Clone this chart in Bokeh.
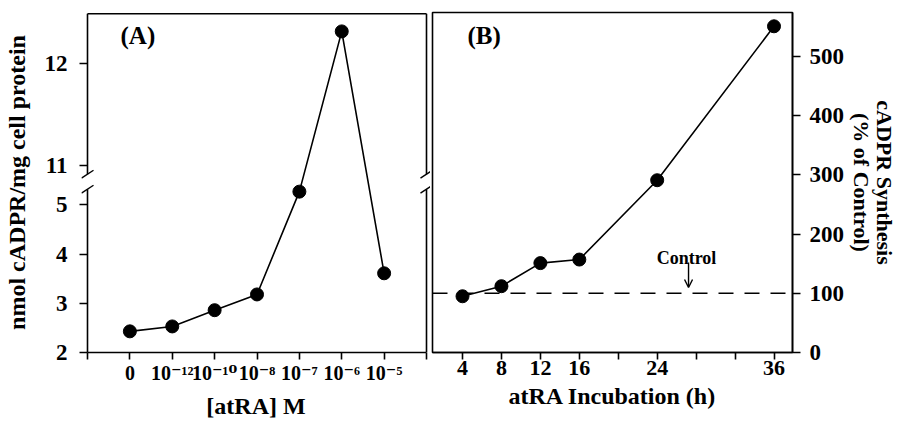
from bokeh.plotting import figure
from bokeh.layouts import row
from bokeh.models import (FixedTicker, Span, Label, Arrow, OpenHead,
                          ColumnDataSource, Range1d)
from bokeh.embed import file_html
from bokeh.resources import INLINE

# ---------------- data ----------------
# Panel A: cADPR content vs atRA concentration
conc_labels = ["0", "10⁻¹²", "10⁻¹⁰", "10⁻⁸", "10⁻⁷", "10⁻⁶", "10⁻⁵"]
cadpr_nmol = [2.43, 2.53, 2.86, 3.18, 5.27, 12.31, 3.61]
a_yticks_low = [2, 3, 4, 5]
a_yticks_high = [11, 12]

# Panel B: cADPR synthesis vs incubation time
hours = [4, 8, 12, 16, 24, 36]
synthesis_pct = [95, 112, 151, 157, 291, 551]
b_xticks = [4, 8, 12, 16, 20, 24, 28, 32, 36]
b_xtick_labels = ["4", "8", "12", "16", "", "24", "", "", "36"]
b_yticks = [0, 100, 200, 300, 400, 500]
control_level = 100

# ---------------- broken axis mapping (panel A) ----------------
UPPER_START = 11.0   # first value of the upper segment
D0 = 5.793           # display position of UPPER_START
K = 2.087            # display units per data unit in upper segment
BREAK_LO = 5.319     # display end of the lower axis piece
BREAK_HI = 5.624     # display start of the upper axis piece
A_TOP = 8.885


def to_display(v):
    return v if v < 8 else D0 + (v - UPPER_START) * K


FONT = "Liberation Serif"


def style_axis(ax, tick_size="22px", label_size="24px"):
    ax.major_label_text_font = FONT
    ax.major_label_text_font_style = "bold"
    ax.major_label_text_font_size = tick_size
    ax.major_label_text_color = "black"
    ax.axis_label_text_font = FONT
    ax.axis_label_text_font_style = "bold"
    ax.axis_label_text_font_size = label_size
    ax.axis_label_text_color = "black"
    ax.axis_label_text_line_height = 1.0
    ax.axis_line_color = "black"
    ax.axis_line_width = 1.6
    ax.major_tick_line_color = "black"
    ax.major_tick_line_width = 1.6
    ax.minor_tick_line_color = None


TOP, BOTTOM = 12, 72

# ---------------- panel A ----------------
pA = figure(width=430, height=424, output_backend="svg", toolbar_location=None,
            x_range=Range1d(-1.1416, 7.0944), y_range=Range1d(2, 8.911),
            min_border_left=81, min_border_right=0,
            min_border_top=TOP, min_border_bottom=BOTTOM)
pA.outline_line_color = None
pA.xgrid.visible = False
pA.ygrid.visible = False
pA.background_fill_color = "white"
pA.border_fill_color = "white"

srcA = ColumnDataSource(dict(
    x=list(range(len(conc_labels))),
    y=[to_display(v) for v in cadpr_nmol],
    label=conc_labels,
    value=cadpr_nmol,
))
pA.line("x", "y", source=srcA, line_color="black", line_width=1.6)
pA.scatter("x", "y", source=srcA, marker="circle", size=13,
           fill_color="black", line_color="black")

xa = pA.xaxis[0]
style_axis(xa, tick_size="20px")
xa.major_label_text_font = "Liberation Serif, DejaVu Serif"
xa.axis_label = "[atRA] M"
xa.bounds = (-1, len(conc_labels))
xa.ticker = FixedTicker(ticks=list(range(-1, len(conc_labels) + 1)))
overA = {i: lab for i, lab in enumerate(conc_labels)}
overA[-1] = ""
overA[len(conc_labels)] = ""
xa.major_label_overrides = overA
xa.major_tick_out = 7
xa.major_tick_in = 0
xa.major_label_standoff = 2
xa.axis_label_standoff = 6

ya = pA.yaxis[0]
style_axis(ya, tick_size="23px")
ya.axis_label = "nmol cADPR/mg cell protein"
ya.axis_line_color = None
yt_vals = a_yticks_low + a_yticks_high
yt_pos = [to_display(v) for v in yt_vals]
ya.ticker = FixedTicker(ticks=yt_pos)
ya.major_label_overrides = {p: str(v) for p, v in zip(yt_pos, yt_vals)}
ya.major_tick_out = 2
ya.major_tick_in = 6
ya.major_label_standoff = 12
ya.axis_label_standoff = 12

# frame of panel A with break marks
xl, xr = -1, len(conc_labels)
pA.segment(x0=[xl, xl, xr, xr, xl], y0=[2, BREAK_HI, 2, BREAK_HI, A_TOP],
           x1=[xl, xl, xr, xr, xr], y1=[BREAK_LO, A_TOP, BREAK_LO, A_TOP, A_TOP],
           line_color="black", line_width=1.6)
dx, dy = 0.142, 0.081
bx, by = [], []
for xx in (xl, xr):
    for yy in (BREAK_LO, BREAK_HI):
        bx.append(xx)
        by.append(yy)
pA.segment(x0=[v - dx for v in bx], y0=[v - dy for v in by],
           x1=[v + dx for v in bx], y1=[v + dy for v in by],
           line_color="black", line_width=1.4)

pA.add_layout(Label(x=-0.221, y=8.443, text="(A)", text_font=FONT,
                    text_font_style="bold", text_font_size="25px",
                    text_color="black",
                    text_align="left", text_baseline="middle"))

# ---------------- panel B ----------------
pB = figure(width=470, height=424, output_backend="svg", toolbar_location=None,
            x_range=Range1d(0.918, 37.9), y_range=Range1d(0, 574.3),
            y_axis_location="right",
            min_border_left=2, min_border_right=108,
            min_border_top=TOP, min_border_bottom=BOTTOM)
pB.outline_line_color = "black"
pB.outline_line_width = 1.6
pB.outline_line_alpha = 1.0
pB.xgrid.visible = False
pB.ygrid.visible = False
pB.background_fill_color = "white"
pB.border_fill_color = "white"

pB.add_layout(Span(location=control_level, dimension="width",
                   line_color="black", line_width=1.5, line_dash="15 11"))

srcB = ColumnDataSource(dict(x=hours, y=synthesis_pct))
pB.line("x", "y", source=srcB, line_color="black", line_width=1.6)
pB.scatter("x", "y", source=srcB, marker="circle", size=13,
           fill_color="black", line_color="black")

xb = pB.xaxis[0]
style_axis(xb)
xb.axis_label = "atRA Incubation (h)"
xb.ticker = FixedTicker(ticks=b_xticks)
xb.major_label_overrides = {t: l for t, l in zip(b_xticks, b_xtick_labels)}
xb.major_tick_out = 7
xb.major_tick_in = 0
xb.major_label_standoff = 1
xb.axis_label_standoff = 5

yb = pB.yaxis[0]
style_axis(yb, tick_size="23px", label_size="22px")
yb.axis_label = "cADPR Synthesis\n(% of Control)"
yb.axis_label_text_line_height = 0.92
yb.ticker = FixedTicker(ticks=b_yticks)
yb.major_tick_out = 8
yb.major_tick_in = 0
yb.major_label_standoff = 9
yb.axis_label_standoff = 2

pB.add_layout(Label(x=4.514, y=535.5, text="(B)", text_font=FONT,
                    text_font_style="bold", text_font_size="25px",
                    text_color="black",
                    text_align="left", text_baseline="middle"))
pB.add_layout(Label(x=27.01, y=158.8, text="Control", text_font=FONT,
                    text_font_style="bold", text_font_size="18px",
                    text_color="black",
                    text_align="center", text_baseline="alphabetic"))
pB.add_layout(Arrow(x_start=27.22, y_start=152, x_end=27.22, y_end=109.8,
                    line_color="black", line_width=1.4,
                    end=OpenHead(size=8, line_color="black", line_width=1.4)))

layout = row(pA, pB)
open("out.html", "w").write(file_html(layout, INLINE))
